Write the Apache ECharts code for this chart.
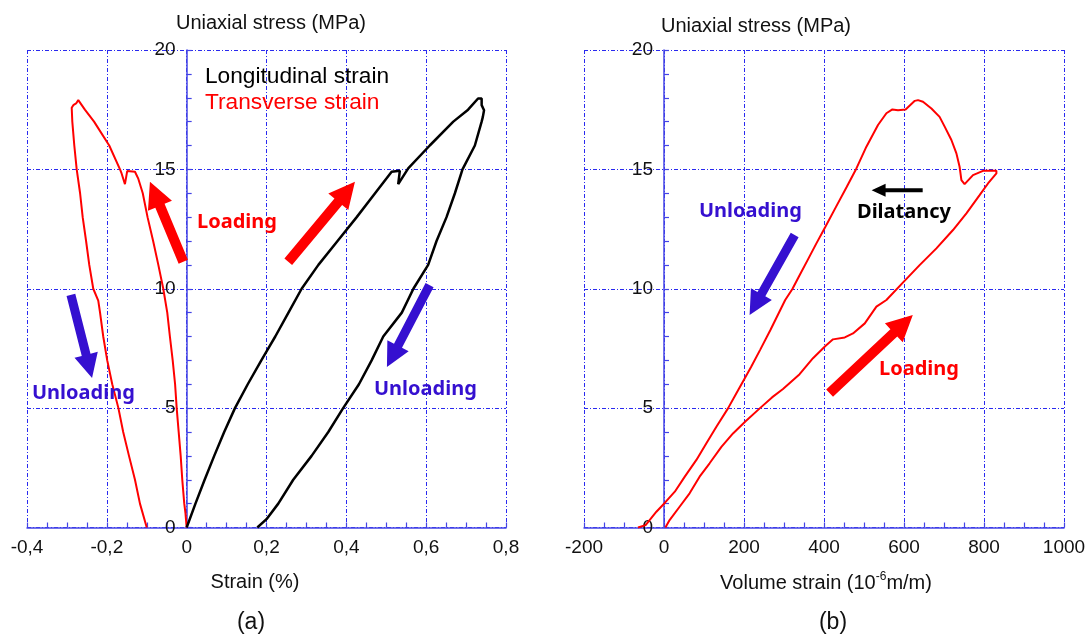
<!DOCTYPE html>
<html>
<head>
<meta charset="utf-8">
<script src="https://cdn.jsdelivr.net/npm/echarts@6/dist/echarts.min.js"></script>
<style>
html, body { margin: 0; padding: 0; background: #fff; }
#main { width: 1092px; height: 639px; }
</style>
</head>
<body>
<div id="main"></div>
<script>
// (a) Uniaxial stress against longitudinal strain (loading, then unloading)
const longStrain = [0, 0.022, 0.045, 0.069, 0.094, 0.121, 0.153, 0.187, 0.202, 0.222, 0.255, 0.288, 0.330, 0.378,
  0.426, 0.472, 0.5135, 0.534, 0.530, 0.555, 0.609, 0.668, 0.705, 0.730, 0.739, 0.739, 0.745, 0.742,
  0.739, 0.722, 0.691, 0.672, 0.651, 0.626, 0.605, 0.568, 0.539, 0.4925, 0.4634, 0.4316, 0.392, 0.3548,
  0.313, 0.267, 0.2295, 0.200, 0.177];
const longStress = [0, 1, 2, 3, 4, 5, 6, 7, 7.43, 8, 9, 10, 11, 12,
  13, 14, 14.9, 14.94, 14.38, 15.04, 16, 17, 17.5, 17.97, 17.97, 17.69, 17.48, 17.2,
  17, 16, 15, 14, 13, 12, 11, 10, 9, 8, 7, 6, 5, 4,
  3, 2, 1, 0.35, 0];

// (a) Uniaxial stress against transverse strain (loading, then unloading)
const transStrain = [0, -0.003, -0.006, -0.011, -0.015, -0.020, -0.025, -0.029, -0.035, -0.042, -0.0486, -0.0586,
  -0.071, -0.084, -0.098, -0.110, -0.121, -0.1295, -0.149, -0.1546, -0.163, -0.167, -0.194, -0.232, -0.255,
  -0.2715, -0.277, -0.284, -0.288, -0.2865, -0.2815, -0.2755, -0.267, -0.2605, -0.252, -0.244, -0.234,
  -0.2215, -0.217, -0.209, -0.199, -0.1864, -0.171, -0.159, -0.1445, -0.1295, -0.117, -0.100];
const transStress = [0, 0.6, 1, 2, 3, 4, 5, 6, 7, 8, 9, 10,
  11, 12, 13, 14, 14.6, 14.9, 14.93, 14.38, 14.83, 15, 16, 17, 17.5,
  17.9, 17.76, 17.69, 17.58, 17, 16, 15, 14, 13, 12, 11, 10,
  9.5, 9, 8, 7, 6, 5, 4, 3, 2, 1, 0];

// (b) Uniaxial stress against volume strain (10^-6 m/m)
const volStrain = [3.5, 14, 39, 64, 89, 114, 143.5, 172.5, 204, 240, 270, 297.5, 339, 372.5, 403.5, 422.5,
  452, 472.5, 502, 531, 556, 599, 639, 681, 722.5, 756, 789, 810, 831, 831, 797.5, 772.5, 751.5,
  743.5, 739, 731, 718.5, 702, 689, 668.5, 647.5, 635, 627, 604, 585, 571, 556,
  535, 506, 481, 457, 430, 403.5, 381, 359, 337, 321, 303, 266, 240, 218, 202, 181, 160,
  131, 106, 81, 52, 27, 3.5, -19, -36, -46, -65];
const volStress = [0, 0.31, 0.87, 1.43, 2.13, 2.69, 3.38, 3.94, 4.45, 5.0, 5.45, 5.8, 6.42, 7.09, 7.6, 7.88,
  7.96, 8.13, 8.55, 9.25, 9.53, 10.29, 10.99, 11.69, 12.46, 13.16, 13.92, 14.41, 14.83, 14.94, 14.94, 14.76, 14.38,
  14.55, 15.11, 15.67, 16.23, 16.78, 17.2, 17.55, 17.83, 17.9, 17.87, 17.51, 17.48, 17.51, 17.35,
  16.86, 15.95, 15.04, 14.27, 13.43, 12.6, 11.9, 11.2, 10.5, 9.99, 9.53, 8.27, 7.43, 6.73, 6.25, 5.62, 4.99,
  4.22, 3.53, 2.83, 2.13, 1.5, 1.06, 0.66, 0.31, 0.1, 0];

// Axis ticks and their printed labels
const strainTicks = [-0.4, -0.2, 0, 0.2, 0.4, 0.6, 0.8];
const strainTickLabels = ['-0,4', '-0,2', '0', '0,2', '0,4', '0,6', '0,8'];
const volTicks = [-200, 0, 200, 400, 600, 800, 1000];
const stressTicks = [0, 5, 10, 15, 20];

const FONT = 'Liberation Sans';
const ANNOT_FONT = 'Noto Sans';
const AXIS_BLUE = '#4444e6';
const GRID_BLUE = '#2a2af0';
const RED = '#ff0000';
const ARROW_BLUE = '#3510d0';

const GRID_LEFT = [27, 584];

const pairs = (xs, ys) => xs.map((x, i) => [x, ys[i]]);

function xAxisFor(gridIndex, ticks, labels) {
  const step = ticks[1] - ticks[0];
  return {
    gridIndex, type: 'value',
    min: ticks[0], max: ticks[ticks.length - 1], interval: step,
    axisLine: { show: true, onZero: true, lineStyle: { color: AXIS_BLUE, width: 1.5 } },
    axisTick: { show: true, inside: true, length: 5, lineStyle: { color: AXIS_BLUE, width: 1.2 } },
    minorTick: { show: true, splitNumber: 4, length: 5, lineStyle: { color: AXIS_BLUE, width: 1.2 } },
    splitLine: { show: true, lineStyle: { color: GRID_BLUE, width: 1, type: [4, 2, 1, 2] } },
    minorSplitLine: { show: false },
    axisLabel: {
      margin: 11, color: '#111', fontSize: 19, fontFamily: FONT,
      formatter: v => {
        const i = Math.round((v - ticks[0]) / step);
        return labels ? labels[i] : String(ticks[i]);
      }
    }
  };
}

// The stress axis is drawn through strain = 0; its offset is set once the x scale is known
function yAxisFor(gridIndex) {
  return {
    gridIndex, type: 'value', position: 'left',
    min: stressTicks[0], max: stressTicks[stressTicks.length - 1], interval: stressTicks[1] - stressTicks[0],
    axisLine: { show: true, onZero: false, lineStyle: { color: AXIS_BLUE, width: 1.5 } },
    axisTick: { show: true, inside: true, length: 5, lineStyle: { color: AXIS_BLUE, width: 1.2 } },
    minorTick: { show: true, splitNumber: 5, length: 5, lineStyle: { color: AXIS_BLUE, width: 1.2 } },
    splitLine: { show: true, lineStyle: { color: GRID_BLUE, width: 1, type: [4, 2, 1, 2] } },
    minorSplitLine: { show: false },
    axisLabel: { margin: 11, color: '#111', fontSize: 19, fontFamily: FONT }
  };
}

const curve = (name, xi, yi, data, color, width) => ({
  name, type: 'line', xAxisIndex: xi, yAxisIndex: yi, data,
  showSymbol: false, symbol: 'none', smooth: false, clip: false,
  lineStyle: { color, width }, z: 5
});

const chart = echarts.init(document.getElementById('main'), null, { renderer: 'canvas' });

chart.setOption({
  animation: false,
  backgroundColor: '#ffffff',
  grid: [
    { left: GRID_LEFT[0], right: 586, top: 50, bottom: 111.5, containLabel: false, outerBoundsMode: 'none' },
    { left: GRID_LEFT[1], right: 28, top: 50, bottom: 111.5, containLabel: false, outerBoundsMode: 'none' }
  ],
  xAxis: [xAxisFor(0, strainTicks, strainTickLabels), xAxisFor(1, volTicks, null)],
  yAxis: [yAxisFor(0), yAxisFor(1)],
  series: [
    curve('Transverse strain', 0, 0, pairs(transStrain, transStress), RED, 2),
    curve('Longitudinal strain', 0, 0, pairs(longStrain, longStress), '#000000', 2.5),
    curve('Volume strain', 1, 1, pairs(volStrain, volStress), RED, 2)
  ]
});

// Move each stress axis (line, ticks and labels) onto strain = 0
chart.setOption({
  yAxis: [0, 1].map(i => ({ offset: -(chart.convertToPixel({ xAxisIndex: i }, 0) - GRID_LEFT[i]) }))
});

// Block arrow from tail to tip, both given in data coordinates of a grid
function arrow(gridIndex, tail, tip, shaft, headW, headL, color) {
  const a = chart.convertToPixel({ gridIndex }, tail);
  const b = chart.convertToPixel({ gridIndex }, tip);
  const dx = b[0] - a[0], dy = b[1] - a[1];
  const len = Math.hypot(dx, dy);
  const ux = dx / len, uy = dy / len, nx = -uy, ny = ux;
  const bx = b[0] - ux * headL, by = b[1] - uy * headL;
  const p = (x, y, k) => [x + nx * k, y + ny * k];
  const points = [
    p(a[0], a[1], shaft / 2), p(bx, by, shaft / 2), p(bx, by, headW / 2), [b[0], b[1]],
    p(bx, by, -headW / 2), p(bx, by, -shaft / 2), p(a[0], a[1], -shaft / 2)
  ];
  return { type: 'polygon', shape: { points }, style: { fill: color }, z: 50, silent: true };
}

function label(text, x, y, opts) {
  const o = Object.assign({ size: 20, family: FONT, weight: 'normal', color: '#111', align: 'left' }, opts || {});
  return {
    type: 'text', z: 60, silent: true,
    style: {
      text, x, y, fill: o.color,
      fontSize: o.size, fontFamily: o.family, fontWeight: o.weight,
      align: o.align, textAlign: o.align, verticalAlign: 'middle', textVerticalAlign: 'middle',
      rich: o.rich
    }
  };
}

const bold = (color) => ({ size: 20, family: ANNOT_FONT, weight: 'bold', color });

chart.setOption({
  graphic: [
    // axis titles and panel letters
    label('Uniaxial stress (MPa)', 271, 23, { align: 'center' }),
    label('Uniaxial stress (MPa)', 756, 26, { align: 'center' }),
    label('Strain (%)', 255, 582, { align: 'center' }),
    label('{n|Volume strain (10}{s|-6}{n|m/m)}', 826, 583, {
      align: 'center',
      rich: {
        n: { fontSize: 20, fontFamily: FONT, fill: '#111', lineHeight: 24 },
        s: { fontSize: 12, fontFamily: FONT, fill: '#111', lineHeight: 14, verticalAlign: 'top' }
      }
    }),
    label('(a)', 251, 623, { align: 'center', size: 23 }),
    label('(b)', 833, 623, { align: 'center', size: 23 }),
    // legend of panel (a)
    label('Longitudinal strain', 205, 77, { size: 22.7, color: '#000' }),
    label('Transverse strain', 205, 103, { size: 22.7, color: RED }),
    // annotations of panel (a)
    label('Loading', 197, 222, bold(RED)),
    label('Unloading', 32, 393, bold(ARROW_BLUE)),
    label('Unloading', 374, 389, bold(ARROW_BLUE)),
    arrow(0, [-0.0085, 11.13], [-0.092, 14.48], 10, 26, 26, RED),
    arrow(0, [0.2545, 11.13], [0.4216, 14.48], 10, 26, 26, RED),
    arrow(0, [-0.290, 9.74], [-0.237, 6.26], 9, 24, 24, ARROW_BLUE),
    arrow(0, [0.6085, 10.15], [0.5017, 6.72], 9, 24, 24, ARROW_BLUE),
    // annotations of panel (b)
    label('Unloading', 699, 211, bold(ARROW_BLUE)),
    label('Dilatancy', 857, 212, bold('#000')),
    label('Loading', 879, 369, bold(RED)),
    arrow(1, [326.7, 12.25], [214, 8.9], 9, 24, 24, ARROW_BLUE),
    arrow(1, [646.7, 14.13], [519, 14.13], 4, 13, 14, '#000'),
    arrow(1, [414, 5.63], [622, 8.9], 10, 26, 26, RED)
  ]
});
</script>
</body>
</html>
